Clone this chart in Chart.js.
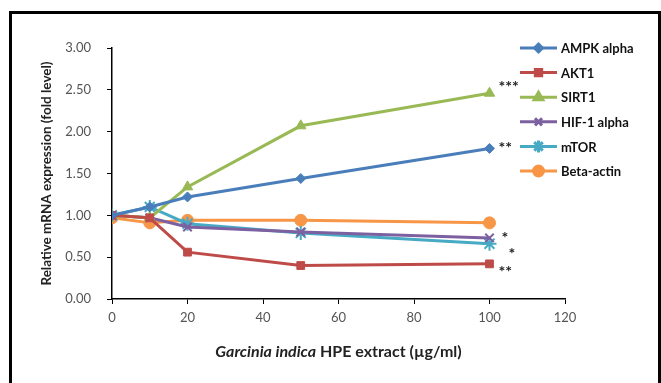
<!DOCTYPE html>
<html><head><meta charset="utf-8">
<script src="https://cdn.jsdelivr.net/npm/chart.js@4/dist/chart.umd.min.js"></script>
<style>
html,body{margin:0;padding:0;background:#fff;width:661px;height:383px;overflow:hidden;}
#wrap{position:absolute;left:0;top:0;width:661px;height:383px;}
#frame{position:absolute;left:9px;top:11px;width:646px;height:400px;border:3px solid #000;pointer-events:none;}
</style></head><body>
<div id="wrap"><canvas id="c" width="661" height="383"></canvas></div>
<div id="frame"></div>
<script>
const doses = [0, 10, 20, 50, 100];
const seriesNames = ['AMPK alpha','AKT1','SIRT1','HIF-1 alpha','mTOR','Beta-actin'];
const ampk = [1.00, 1.10, 1.22, 1.44, 1.80];
const akt1 = [1.00, 0.97, 0.56, 0.40, 0.42];
const sirt1 = [1.00, 0.97, 1.34, 2.07, 2.46];
const hif1 = [1.00, 0.97, 0.86, 0.80, 0.73];
const mtor = [1.00, 1.10, 0.90, 0.79, 0.66];
const actin = [0.97, 0.91, 0.94, 0.94, 0.91];
const yTicks = [0, 0.5, 1.0, 1.5, 2.0, 2.5, 3.0];
const xTicks = [0, 20, 40, 60, 80, 100, 120];
const stars = [['SIRT1','***'],['AMPK alpha','**'],['HIF-1 alpha','*'],['mTOR','*'],['AKT1','**']];

const colors = ['#4a7ebb','#be4b48','#98b954','#7d60a0','#46aac5','#f79646'];
const styles = ['rectRot','rect','triangle','crossRot','star','circle'];
const radii = [5,5.5,6,6,7,6];
const allVals = [ampk, akt1, sirt1, hif1, mtor, actin];

const datasets = seriesNames.map((n,i)=>({
  label:n,
  data: doses.map((d,j)=>({x:d,y:allVals[i][j]})),
  borderColor: colors[i], backgroundColor: colors[i],
  borderWidth: 3, pointStyle: styles[i], pointRadius: radii[i],
  pointBorderWidth: (styles[i]==='crossRot'||styles[i]==='star')?2:1,
  tension: 0
}));

const starOffsets = {'SIRT1':[9,-10],'AMPK alpha':[9,-5],'HIF-1 alpha':[12,-4],'mTOR':[19,6],'AKT1':[9,4]};

const extras = {
  id:'extras',
  afterDatasetsDraw(chart){
    const ctx = chart.ctx;
    const xs = chart.scales.x, ys = chart.scales.y;
    ctx.save();
    ctx.fillStyle = '#222';
    ctx.font = 'bold 16px Lato';
    ctx.textBaseline = 'middle';
    ctx.textAlign = 'left';
    stars.forEach(([name,s])=>{
      const i = seriesNames.indexOf(name);
      const last = allVals[i].length-1;
      const px = xs.getPixelForValue(doses[last]);
      const py = ys.getPixelForValue(allVals[i][last]);
      const o = starOffsets[name];
      ctx.fillText(s, px+o[0], py+o[1]+4);
    });
    // legend
    const lx0 = 520, lx1 = 557, tx = 561;
    seriesNames.forEach((n,i)=>{
      const y = 48 + i*24.6;
      ctx.strokeStyle = colors[i]; ctx.lineWidth = 3;
      ctx.beginPath(); ctx.moveTo(lx0,y); ctx.lineTo(lx1,y); ctx.stroke();
      ctx.fillStyle = colors[i]; ctx.strokeStyle = colors[i];
      Chart.helpers.drawPoint(ctx,{pointStyle:styles[i],radius:radii[i]-1,borderWidth:(styles[i]==='crossRot'||styles[i]==='star')?2:1},(lx0+lx1)/2,y);
      ctx.fillStyle = '#111';
      ctx.font = 'bold 13px Lato';
      ctx.textAlign='left'; ctx.textBaseline='middle';
      ctx.fillText(n, tx, y+1);
    });
    // x-axis title with italic part
    const cx = (chart.chartArea.left+chart.chartArea.right)/2;
    const p1 = 'Garcinia indica', p2 = ' HPE extract (\u00b5g/ml)';
    const fs = 16;
    ctx.font = 'italic bold '+fs+'px Lato';
    const w1 = ctx.measureText(p1).width;
    ctx.font = 'bold '+fs+'px Lato';
    const w2 = ctx.measureText(p2).width;
    let sx = cx - (w1+w2)/2;
    ctx.fillStyle = '#222'; ctx.textAlign='left'; ctx.textBaseline='middle';
    ctx.font = 'italic bold '+fs+'px Lato'; ctx.fillText(p1, sx, 352);
    ctx.font = 'bold '+fs+'px Lato'; ctx.fillText(p2, sx+w1, 352);
    ctx.restore();
  }
};

new Chart(document.getElementById('c'), {
  type:'line',
  data:{datasets},
  options:{
    responsive:false, animation:false,
    layout:{padding:{left:39,top:48,right:96,bottom:0}},
    plugins:{legend:{display:false},tooltip:{enabled:false}},
    scales:{
      x:{type:'linear',min:0,max:120,
        afterBuildTicks(s){ s.ticks = xTicks.map(v=>({value:v})); },
        afterFit(s){ s.height = 383-299; },
        grid:{drawOnChartArea:false,color:'#000',tickLength:5,tickWidth:1},
        border:{color:'#000',width:1.5},
        ticks:{color:'#555',font:{family:'Lato',size:13},padding:6,maxRotation:0}
      },
      y:{min:0,max:3,
        afterBuildTicks(s){ s.ticks = yTicks.map(v=>({value:v})); },
        afterFit(s){ s.width = 112-39; },
        grid:{drawOnChartArea:false,color:'#000',tickLength:5,tickWidth:1},
        border:{color:'#000',width:1.5},
        ticks:{color:'#555',font:{family:'Lato',size:13},padding:16,callback:v=>Number(v).toFixed(2)},
        title:{display:true,text:'Relative mRNA expression (fold level)',color:'#222',font:{family:'Lato',size:13.5,weight:'bold'},padding:{top:0,bottom:4}}
      }
    }
  },
  plugins:[extras]
});
</script>
</body></html>
